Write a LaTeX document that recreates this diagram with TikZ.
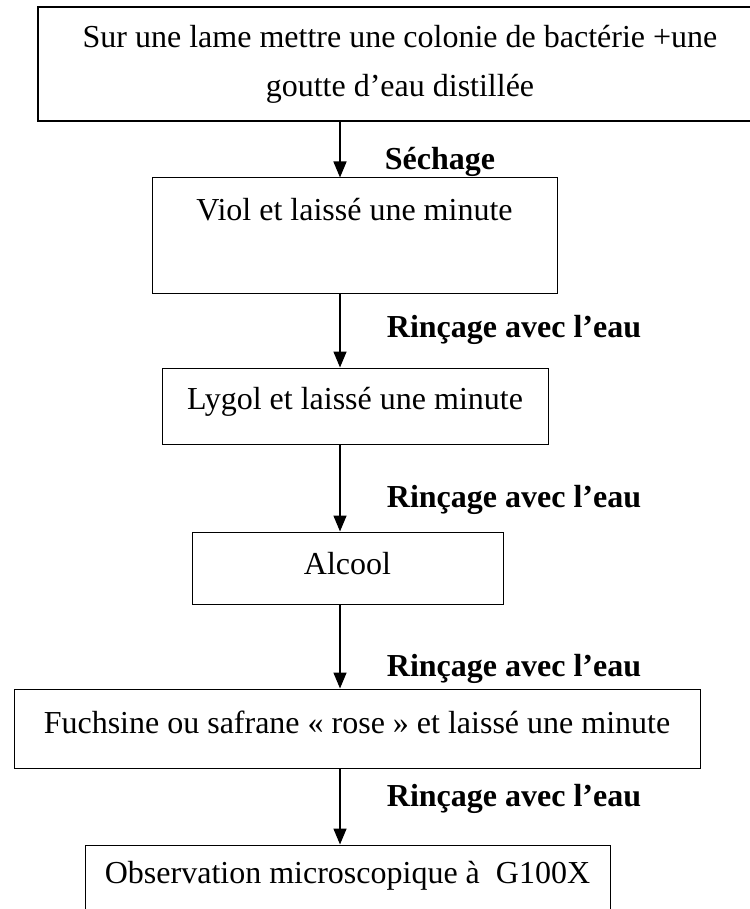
\documentclass[tikz,border=0pt]{standalone}
\usepackage{fontspec}
\setmainfont{Liberation Serif}
\usetikzlibrary{arrows.meta}

\begin{document}
\begin{tikzpicture}[x=1pt,y=-1pt,
    etape/.style={draw,line width=1pt,inner sep=0pt,align=center,font=\fontsize{32}{49}\selectfont},
    legende/.style={font=\fontsize{32}{38}\selectfont\bfseries},
    fleche/.style={line width=1.5pt,-{Triangle[length=16pt,width=13pt]}}]
 \useasboundingbox (0,0) rectangle (749,909);
 \coordinate (axe) at (340,0);

 \draw (400,64) node[etape,line width=1.6pt,minimum width=724,minimum height=114] (lame)
   {Sur une lame mettre une colonie de bactérie +une\\goutte d’eau distillée};
 \draw (354.5,235.5) node[etape,minimum width=405,text height=43,text depth=72] (viol) {Viol et laissé une minute};
 \draw (355,406) node[etape,minimum width=386,text height=41,text depth=35] (lygol) {Lygol et laissé une minute};
 \draw (347.5,568) node[etape,minimum width=311,text height=42,text depth=30] (alcool) {Alcool};
 \draw (357,728.5) node[etape,minimum width=686,text height=44,text depth=35] (fuchsine) {Fuchsine ou safrane « rose » et laissé une minute};
 \draw (347.5,902.5) node[etape,minimum width=525,text height=38,text depth=77] (observ) {Observation microscopique à~ G100X};

 \draw (440,162) node[legende] (sechage) {Séchage};
 \draw (514,330) node[legende] (rincage1) {Rinçage avec l’eau};
 \draw (514,500) node[legende] (rincage2) {Rinçage avec l’eau};
 \draw (514,669) node[legende] (rincage3) {Rinçage avec l’eau};
 \draw (514,799) node[legende] (rincage4) {Rinçage avec l’eau};

  \path[fleche] (lame.south -| axe) edge (viol.north -| axe);
  \path[fleche] (viol.south -| axe) edge (lygol.north -| axe);
  \path[fleche] (lygol.south -| axe) edge (alcool.north -| axe);
  \path[fleche] (alcool.south -| axe) edge (fuchsine.north -| axe);
  \path[fleche] (fuchsine.south -| axe) edge (observ.north -| axe);
\end{tikzpicture}
\end{document}
